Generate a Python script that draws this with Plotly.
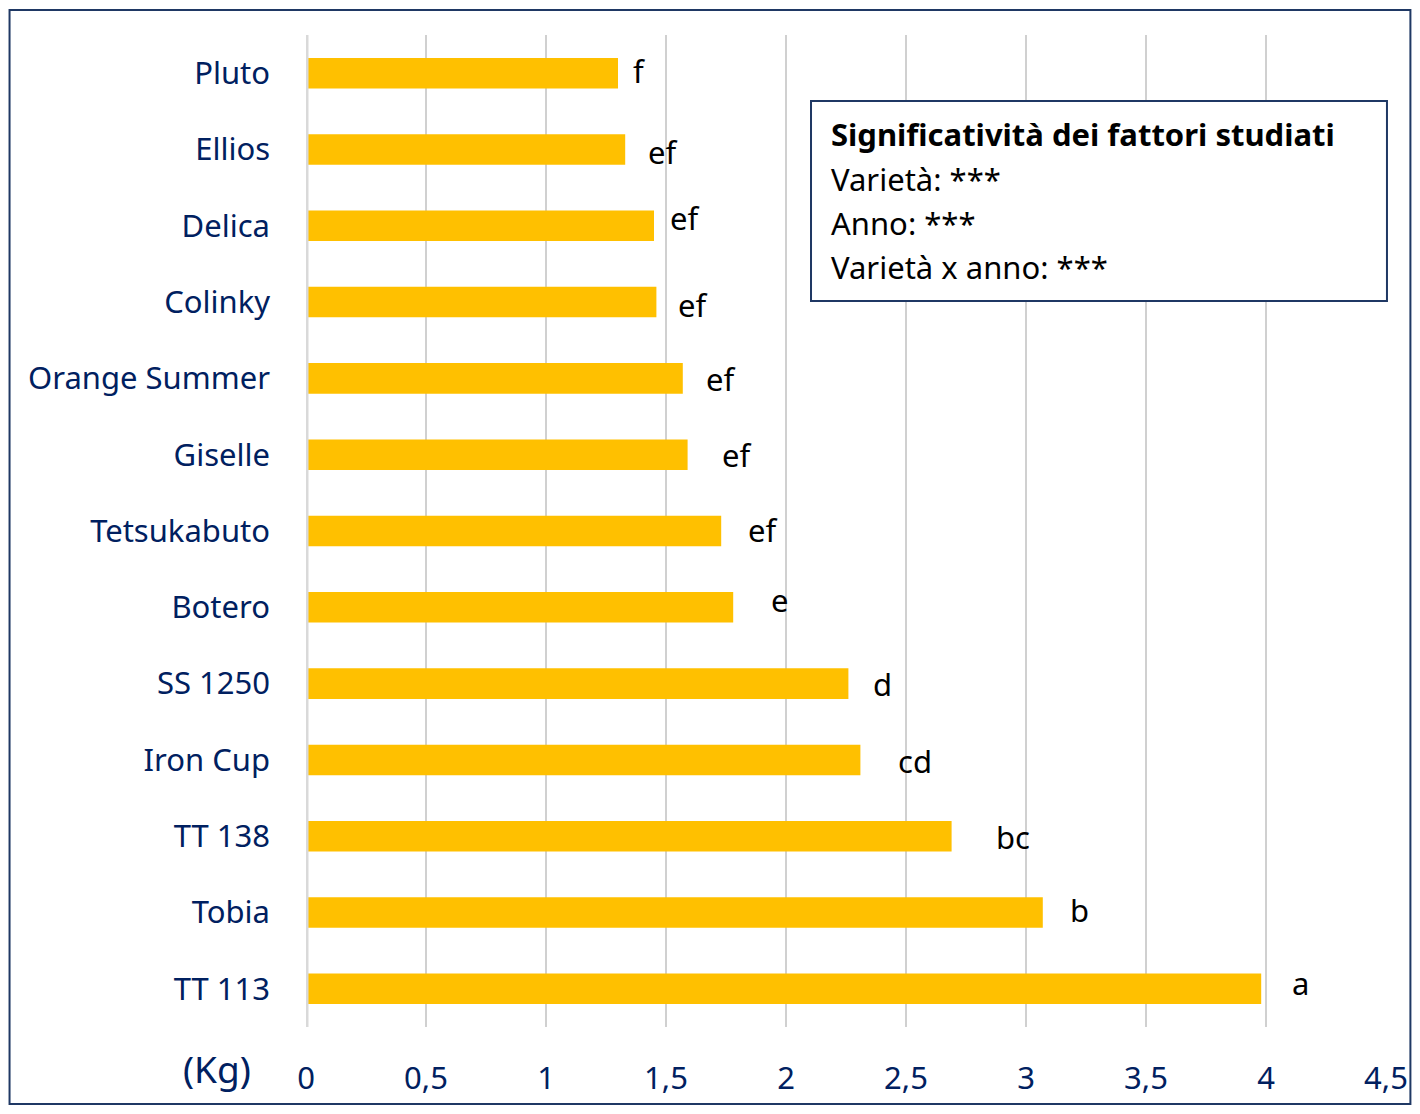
import plotly.graph_objects as go

varieties = ["Pluto", "Ellios", "Delica", "Colinky", "Orange Summer", "Giselle",
             "Tetsukabuto", "Botero", "SS 1250", "Iron Cup", "TT 138", "Tobia", "TT 113"]
yield_kg = [1.30, 1.33, 1.45, 1.46, 1.57, 1.59, 1.73, 1.78, 2.26, 2.31, 2.69, 3.07, 3.98]
letters = ["f", "ef", "ef", "ef", "ef", "ef", "ef", "e", "d", "cd", "bc", "b", "a"]
tick_vals = [0, 0.5, 1, 1.5, 2, 2.5, 3, 3.5, 4, 4.5]
tick_text = ["0", "0,5", "1", "1,5", "2", "2,5", "3", "3,5", "4", "4,5"]
legend_title = "Significatività dei fattori studiati"
legend_lines = ["Varietà: ***", "Anno: ***", "Varietà x anno: ***"]

# per-letter nudges (pixels) as placed in the original
label_dx = [15, 23, 16, 22, 23, 34, 27, 38, 25, 38, 44, 27, 31]
label_dy = [-2, 3, -8, 3, 1, 0, -1, -7, 0, 1, 1, -3, -6]

NAVY = "#002060"
FONT = "Noto Sans"
FS = 31

fig = go.Figure()
fig.add_trace(go.Bar(x=yield_kg, y=varieties, orientation="h", width=0.4,
                     marker=dict(color="#FFC000", line=dict(width=0))))

for v, cat, lab, dx, dy in zip(yield_kg, varieties, letters, label_dx, label_dy):
    fig.add_annotation(x=v, y=cat, text=lab, showarrow=False, xanchor="left", yanchor="middle",
                       xshift=dx - 2, yshift=-dy, font=dict(family=FONT, size=FS, color="black"))

# significance box
fig.add_shape(type="rect", xref="paper", yref="paper", x0=0.4676, x1=1.0009, y0=0.7319, y1=0.9335,
              line=dict(color="#1F3864", width=2), fillcolor="white", layer="above")
fig.add_annotation(xref="paper", yref="paper", x=0.4843, y=0.8997, text="<b>" + legend_title + "</b>",
                   showarrow=False, xanchor="left", yanchor="middle",
                   font=dict(family=FONT, size=FS, color="black"))
for i, line in enumerate(legend_lines):
    fig.add_annotation(xref="paper", yref="paper", x=0.4843, y=0.8544 - i * 0.0443, text=line,
                       showarrow=False, xanchor="left", yanchor="middle",
                       font=dict(family=FONT, size=FS, color="black"))

# unit label
fig.add_annotation(xref="paper", yref="paper", x=-0.082, y=-0.042, text="(Kg)", showarrow=False,
                   xanchor="center", yanchor="middle", font=dict(family=FONT, size=37, color=NAVY))

# outer frame
fig.add_shape(type="rect", xref="paper", yref="paper", x0=-0.2745, x1=1.0226, y0=-0.0776, y1=1.0252,
              line=dict(color="#1F3864", width=2))

fig.update_layout(
    width=1404, height=1098,
    margin=dict(l=298, r=26, t=27, b=79, autoexpand=False),
    plot_bgcolor="white", paper_bgcolor="white",
    showlegend=False,
    xaxis=dict(range=[0, 4.5], tickvals=tick_vals, ticktext=tick_text, showgrid=True,
               gridcolor="#D0D0D0", gridwidth=2, zeroline=False, showline=False, automargin=False,
               ticklabelstandoff=30, tickfont=dict(family=FONT, size=FS, color=NAVY)),
    yaxis=dict(categoryorder="array", categoryarray=varieties, range=[12.5, -0.5],
               showgrid=False, zeroline=False, showline=False, automargin=False,
               ticklabelstandoff=35, tickfont=dict(family=FONT, size=FS, color=NAVY)),
)
# y axis line drawn as a light grey bar on the left edge
fig.add_shape(type="line", xref="x", yref="paper", x0=0, x1=0, y0=0, y1=1,
              line=dict(color="#D9D9D9", width=5))

fig.write_html("out.html")
